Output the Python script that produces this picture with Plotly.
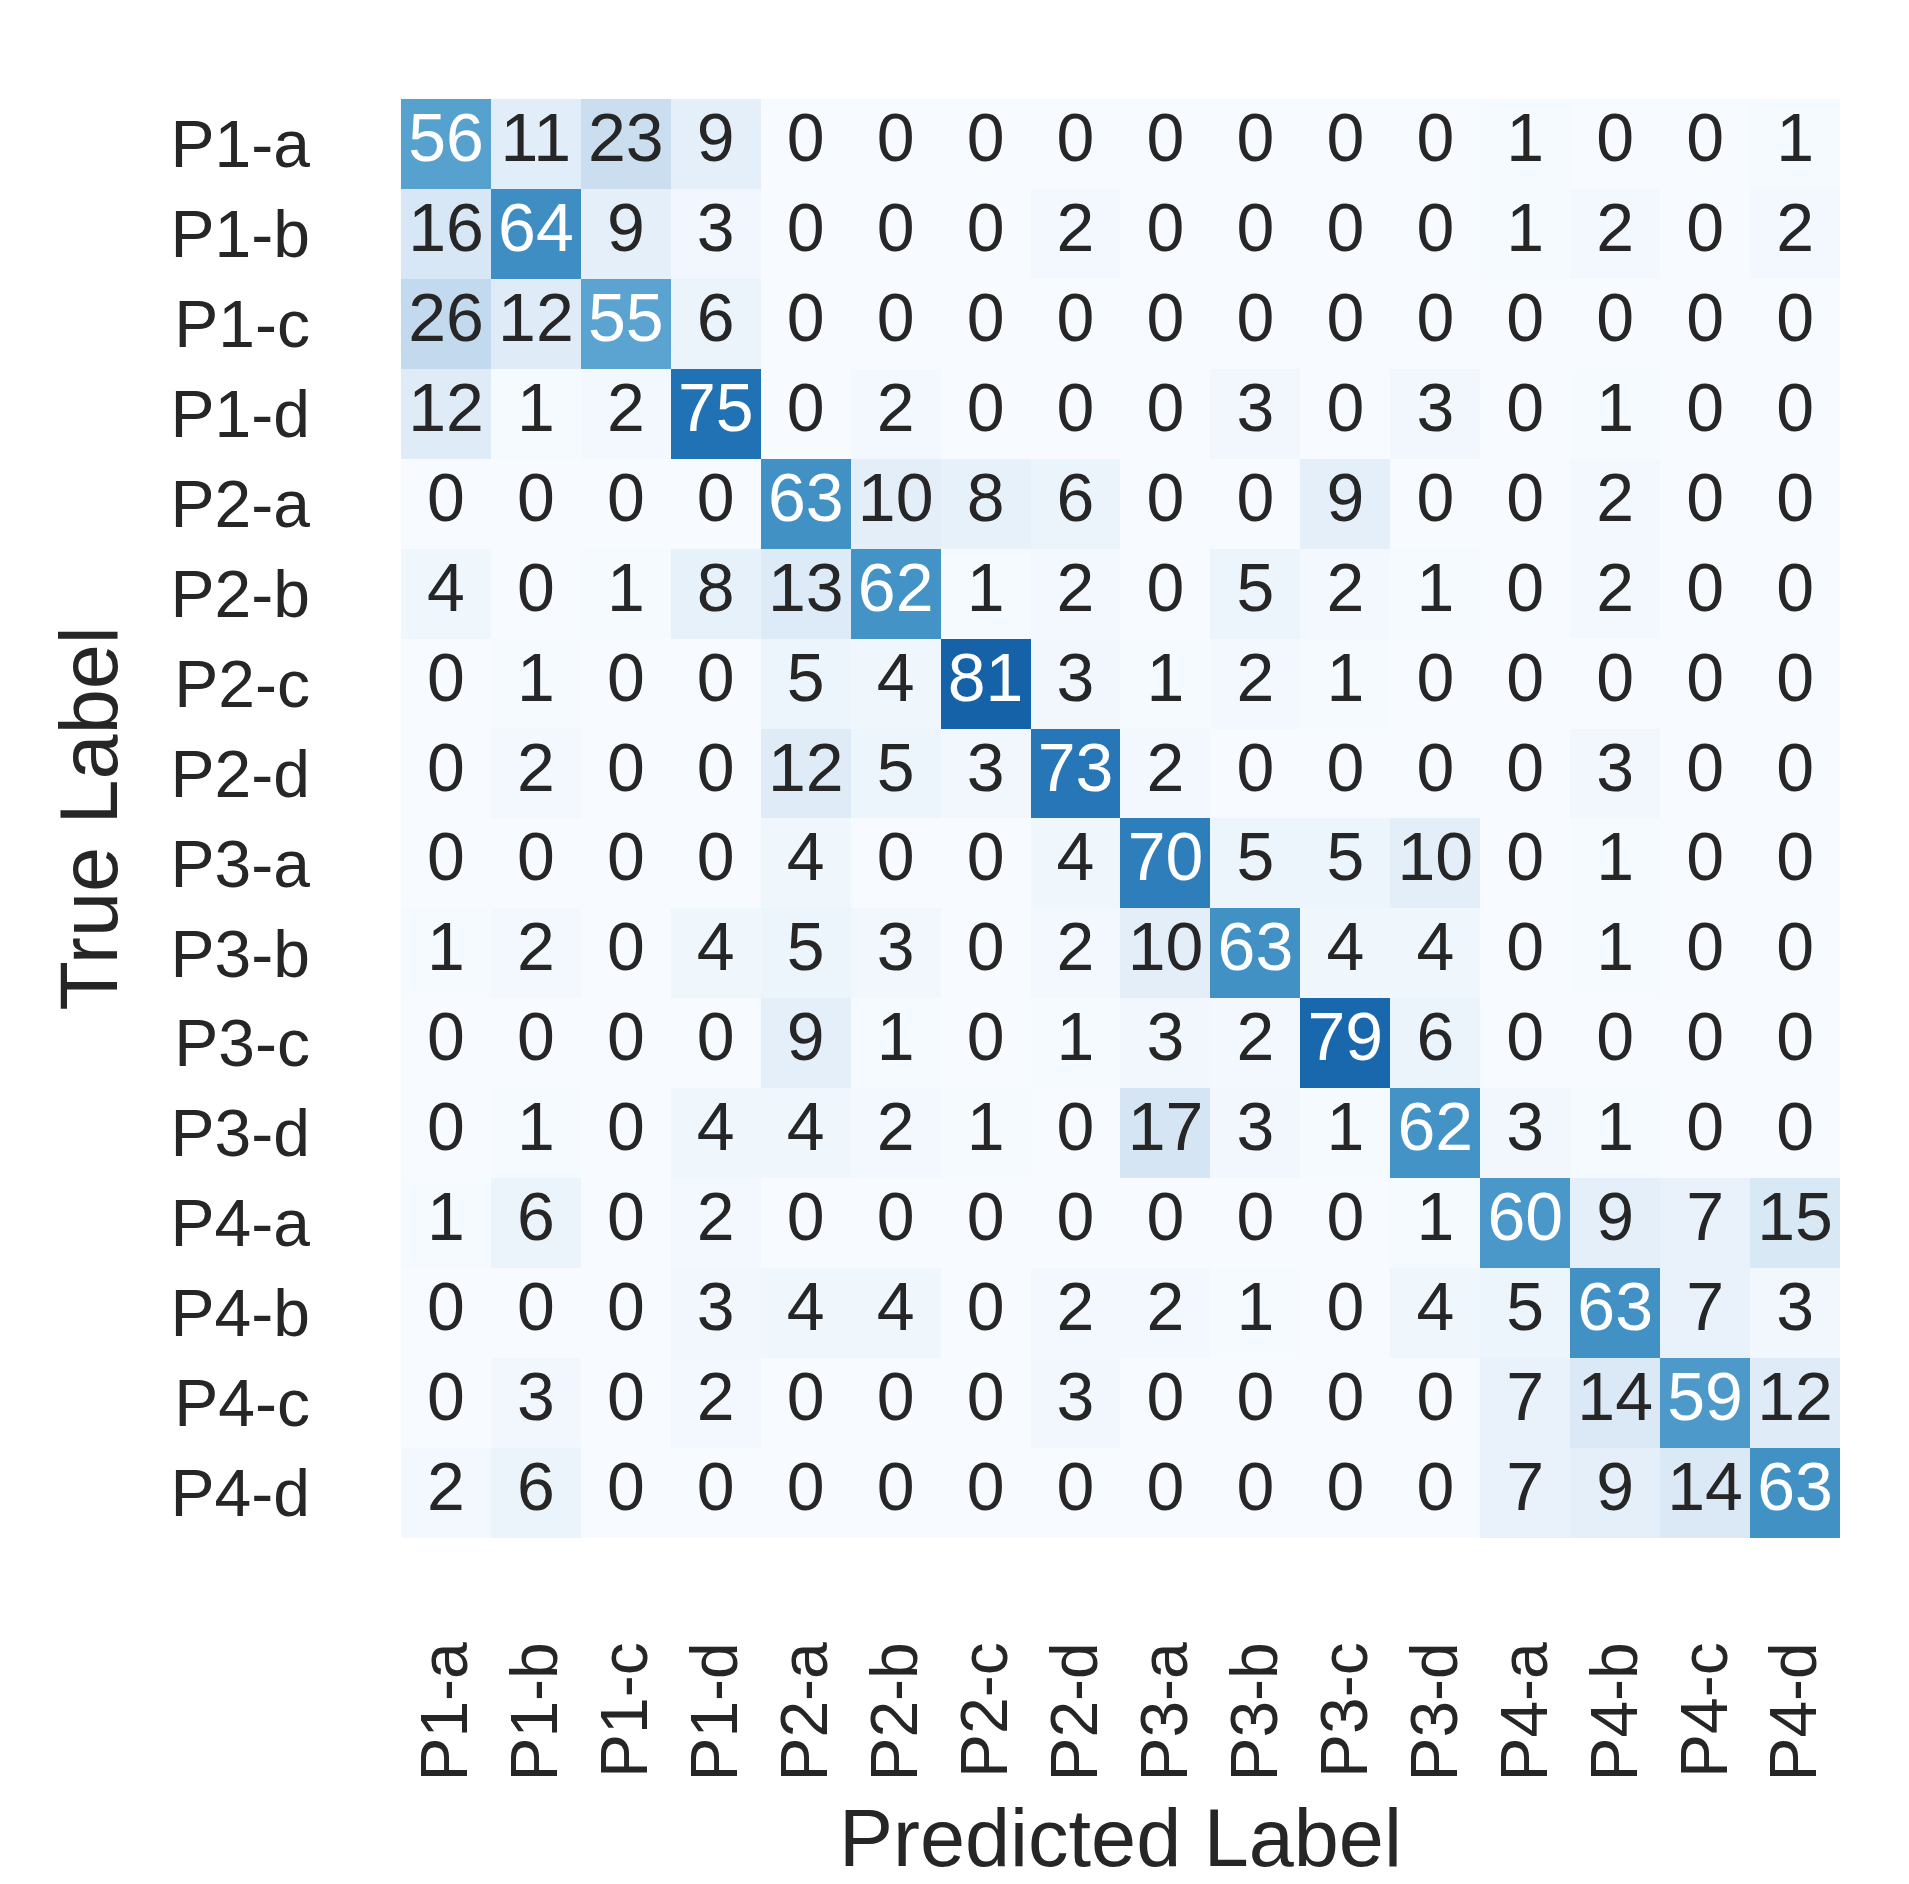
import plotly.graph_objects as go

labels = ["P1-a","P1-b","P1-c","P1-d","P2-a","P2-b","P2-c","P2-d",
          "P3-a","P3-b","P3-c","P3-d","P4-a","P4-b","P4-c","P4-d"]
matrix = [
    [56,11,23,9,0,0,0,0,0,0,0,0,1,0,0,1],
    [16,64,9,3,0,0,0,2,0,0,0,0,1,2,0,2],
    [26,12,55,6,0,0,0,0,0,0,0,0,0,0,0,0],
    [12,1,2,75,0,2,0,0,0,3,0,3,0,1,0,0],
    [0,0,0,0,63,10,8,6,0,0,9,0,0,2,0,0],
    [4,0,1,8,13,62,1,2,0,5,2,1,0,2,0,0],
    [0,1,0,0,5,4,81,3,1,2,1,0,0,0,0,0],
    [0,2,0,0,12,5,3,73,2,0,0,0,0,3,0,0],
    [0,0,0,0,4,0,0,4,70,5,5,10,0,1,0,0],
    [1,2,0,4,5,3,0,2,10,63,4,4,0,1,0,0],
    [0,0,0,0,9,1,0,1,3,2,79,6,0,0,0,0],
    [0,1,0,4,4,2,1,0,17,3,1,62,3,1,0,0],
    [1,6,0,2,0,0,0,0,0,0,0,1,60,9,7,15],
    [0,0,0,3,4,4,0,2,2,1,0,4,5,63,7,3],
    [0,3,0,2,0,0,0,3,0,0,0,0,7,14,59,12],
    [2,6,0,0,0,0,0,0,0,0,0,0,7,9,14,63],
]

font = "Liberation Sans, Arial, sans-serif"
ink = "#262626"
fig = go.Figure()
fig.add_trace(go.Heatmap(z=matrix, x=labels, y=labels, colorscale="Blues",
                         zmin=0, zmax=100, showscale=False))
xs, ys, ts, cs = [], [], [], []
for i, row in enumerate(matrix):
    for j, v in enumerate(row):
        xs.append(labels[j]); ys.append(labels[i]); ts.append(str(v))
        cs.append("white" if v > 45 else ink)
fig.add_trace(go.Scatter(x=xs, y=ys, text=ts, mode="text",
                         textfont=dict(size=68, color=cs, family=font),
                         hoverinfo="skip", showlegend=False))
fig.update_xaxes(tickangle=-90, tickfont=dict(size=66, color=ink), automargin=False,
                 ticklabelstandoff=60, showgrid=False, zeroline=False, ticks="", showline=False)
fig.update_yaxes(autorange="reversed", tickfont=dict(size=66, color=ink), automargin=False,
                 ticklabelstandoff=60, showgrid=False, zeroline=False, ticks="", showline=False)
fig.update_layout(width=1909, height=1884, plot_bgcolor="white", paper_bgcolor="white",
                  font=dict(family=font, color=ink),
                  margin=dict(l=363, r=47, t=61, b=324),
                  annotations=[
                      dict(text="Predicted Label", x=0.5, y=0, xref="paper", yref="paper",
                           yanchor="middle", yshift=-270, showarrow=False,
                           font=dict(size=81, color=ink)),
                      dict(text="True Label", x=0, y=0.5, xref="paper", yref="paper",
                           xanchor="center", xshift=-283, textangle=-90, showarrow=False,
                           font=dict(size=81, color=ink)),
                  ])
fig.write_html("out.html")
